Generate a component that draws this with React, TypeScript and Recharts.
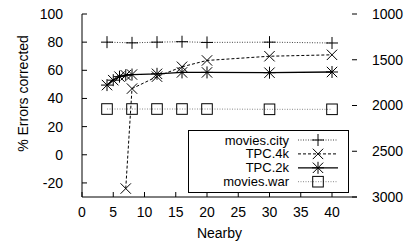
import React from "react"
import { LineChart, Line, XAxis, YAxis, Legend } from "recharts"

// x positions (Nearby) and % errors corrected
const cityNearby = [4, 8, 12, 16, 20, 30, 40]
const moviesCity = [80, 79.5, 80, 80.3, 79.8, 80, 79.4]

const tpc4kNearby = [7, 8, 12, 16, 20, 30, 40]
const tpc4k = [-24, 47, 55.5, 62.5, 67, 70, 71]

const tpc2kNearby = [4, 5, 6, 7, 8, 12, 16, 20, 30, 40]
const tpc2k = [49.5, 53, 55.5, 56.5, 57, 57.5, 58.5, 58.5, 58.3, 58.8]

const warNearby = [4, 8, 12, 16, 20, 30, 40]
const moviesWar = [32.5, 32.5, 32.5, 32.5, 32.5, 32.3, 32.3]

const seriesNames = ["movies.city", "TPC.4k", "TPC.2k", "movies.war"]

const xTicks = [0, 5, 10, 15, 20, 25, 30, 35, 40]
const yTicks = [-20, 0, 20, 40, 60, 80, 100]
const y2Ticks = [1000, 1500, 2000, 2500, 3000]

const toPoints = (xs: number[], ys: number[]) => xs.map((x, i) => ({ x, y: ys[i] }))

const cityData = toPoints(cityNearby, moviesCity)
const tpc4kData = toPoints(tpc4kNearby, tpc4k)
const tpc2kData = toPoints(tpc2kNearby, tpc2k)
const warData = toPoints(warNearby, moviesWar)

type Kind = "plus" | "cross" | "star" | "square"

const markerOf: Record<string, Kind> = {
  "movies.city": "plus",
  "TPC.4k": "cross",
  "TPC.2k": "star",
  "movies.war": "square",
}

function Marker({ kind, cx, cy }: { kind: Kind; cx: number; cy: number }) {
  const s = { stroke: "#000", strokeWidth: 1, fill: "none" }
  const p = 6
  const c = 5.2
  if (kind === "square") {
    return <rect x={cx - 5.3} y={cy - 5.3} width={10.6} height={10.6} {...s} />
  }
  return (
    <g>
      {(kind === "plus" || kind === "star") && (
        <>
          <line x1={cx - p} y1={cy} x2={cx + p} y2={cy} {...s} />
          <line x1={cx} y1={cy - p} x2={cx} y2={cy + p} {...s} />
        </>
      )}
      {(kind === "cross" || kind === "star") && (
        <>
          <line x1={cx - c} y1={cy - c} x2={cx + c} y2={cy + c} {...s} />
          <line x1={cx - c} y1={cy + c} x2={cx + c} y2={cy - c} {...s} />
        </>
      )}
    </g>
  )
}

const dotFor = (kind: Kind) => (props: any) => (
  <Marker key={`${kind}-${props.index}`} kind={kind} cx={props.cx} cy={props.cy} />
)

function KeyBox({ payload }: any) {
  const rows = [...(payload || [])].sort(
    (a: any, b: any) => seriesNames.indexOf(a.value) - seriesNames.indexOf(b.value)
  )
  return (
    <div style={{ width: 161, height: 63, border: "1px solid #000", boxSizing: "border-box", background: "transparent" }}>
      <svg width={159} height={61} style={{ display: "block" }}>
        {rows.map((entry: any, i: number) => {
          const cy = 9 + i * 13.9
          const kind = markerOf[entry.value]
          return (
            <g key={entry.value}>
              <text x={100} y={cy} textAnchor="end" dominantBaseline="central" fontSize={13} fill="#000">
                {entry.value}
              </text>
              <line
                x1={109}
                x2={149}
                y1={cy}
                y2={cy}
                stroke={entry.color}
                strokeWidth={entry.payload?.strokeWidth ?? 1}
                strokeDasharray={entry.payload?.strokeDasharray}
              />
              <Marker kind={kind} cx={129} cy={cy} />
            </g>
          )
        })}
      </svg>
    </div>
  )
}

export default function App() {
  return (
    <div style={{ width: 405, height: 244, fontFamily: "'Liberation Sans', Arial, sans-serif", background: "#fff" }}>
      <style>{"body{margin:0}"}</style>
      <LineChart width={405} height={244} margin={{ top: 14, right: 0, bottom: 0, left: 0 }}>
        <XAxis
          dataKey="x"
          type="number"
          domain={[0, 44]}
          ticks={xTicks}
          height={47}
          tickSize={-5}
          tickMargin={15}
          axisLine={{ stroke: "#000" }}
          tickLine={{ stroke: "#000" }}
          tick={{ fill: "#000", fontSize: 14 }}
          label={{ value: "Nearby", position: "insideBottom", offset: 6, fill: "#000", fontSize: 14 }}
        />
        <XAxis
          xAxisId="top"
          orientation="top"
          type="number"
          domain={[0, 44]}
          allowDataOverflow
          ticks={xTicks}
          height={0}
          tickSize={-5}
          tick={false}
          axisLine={{ stroke: "#000" }}
          tickLine={{ stroke: "#000" }}
        />
        <YAxis
          type="number"
          domain={[-30, 100]}
          ticks={yTicks}
          width={82}
          tickSize={-5}
          tickMargin={24}
          axisLine={{ stroke: "#000" }}
          tickLine={{ stroke: "#000" }}
          tick={{ fill: "#000", fontSize: 14 }}
          label={{ value: "% Errors corrected", angle: -90, position: "center", dx: -18, dy: -12, fill: "#000", fontSize: 14 }}
        />
        <YAxis
          yAxisId="mirror"
          orientation="right"
          type="number"
          domain={[-30, 100]}
          allowDataOverflow
          ticks={yTicks}
          width={0}
          tickSize={-5}
          tick={false}
          axisLine={{ stroke: "#000" }}
          tickLine={{ stroke: "#000" }}
        />
        <YAxis
          yAxisId="y2"
          orientation="right"
          type="number"
          reversed
          domain={[1000, 3000]}
          allowDataOverflow
          ticks={y2Ticks}
          width={48}
          tickSize={-5}
          tickMargin={20}
          axisLine={false}
          tickLine={{ stroke: "#000" }}
          tick={{ fill: "#000", fontSize: 14 }}
        />
        <Legend
          layout="vertical"
          align="center"
          verticalAlign="middle"
          content={<KeyBox />}
          wrapperStyle={{ position: "absolute", left: 188, top: 130, width: 161, height: 63 }}
        />
        <Line
          data={cityData}
          dataKey="y"
          name="movies.city"
          stroke="#444"
          strokeWidth={1}
          strokeDasharray="1 1.5"
          dot={dotFor("plus")}
          activeDot={false}
          isAnimationActive={false}
        />
        <Line
          data={tpc4kData}
          dataKey="y"
          name="TPC.4k"
          stroke="#000"
          strokeWidth={1}
          strokeDasharray="3 2"
          dot={dotFor("cross")}
          activeDot={false}
          isAnimationActive={false}
        />
        <Line
          data={tpc2kData}
          dataKey="y"
          name="TPC.2k"
          stroke="#000"
          strokeWidth={1.3}
          dot={dotFor("star")}
          activeDot={false}
          isAnimationActive={false}
        />
        <Line
          data={warData}
          dataKey="y"
          name="movies.war"
          stroke="#888"
          strokeWidth={1}
          strokeDasharray="1 1.5"
          dot={dotFor("square")}
          activeDot={false}
          isAnimationActive={false}
        />
      </LineChart>
    </div>
  )
}
